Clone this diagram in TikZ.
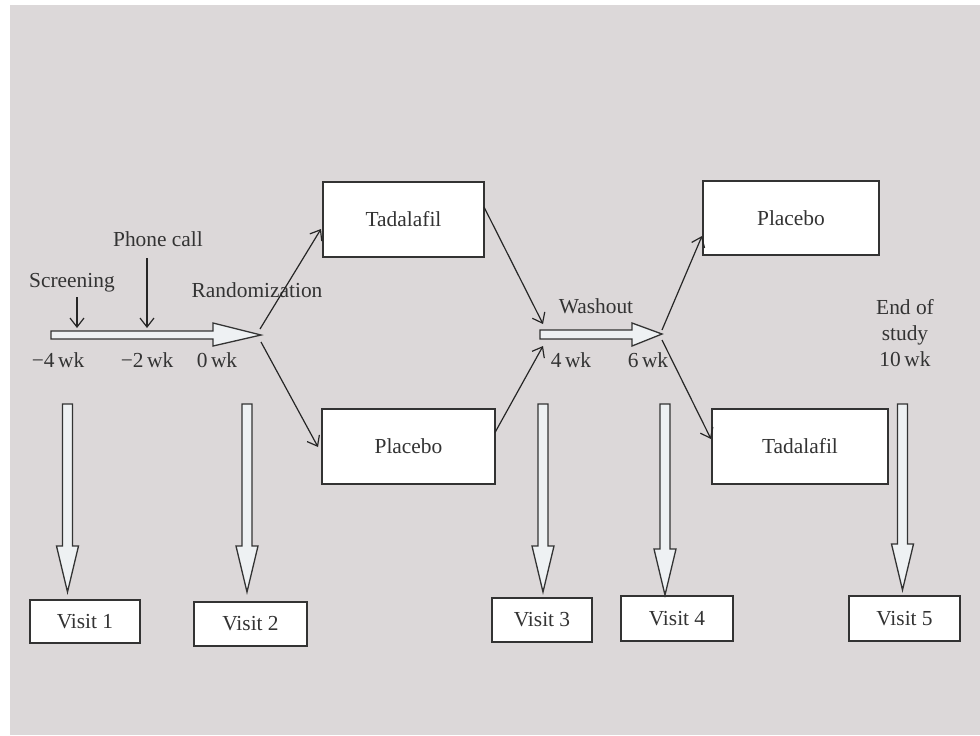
\documentclass[tikz,border=0pt]{standalone}
\usepackage{fontspec}
\setmainfont{Liberation Serif}
\usetikzlibrary{arrows.meta, calc}

\definecolor{paper}{HTML}{DCD8D9}
\definecolor{ink}{HTML}{333333}
\definecolor{arrowfill}{HTML}{EEF1F3}

\tikzset{
  box/.style={draw=ink, line width=0.75pt, fill=white, text=ink, inner sep=0pt, outer sep=0pt},
  lbl/.style={text=ink, inner sep=1pt},
  fat/.style={draw=ink, line width=0.65pt, fill=arrowfill, line join=miter},
  link/.style={draw=black!85, line width=0.6pt, -{Straight Barb[length=4.5pt, width=7pt]}},
}

\begin{document}
\begin{tikzpicture}[x=0.5pt, y=-0.5pt, font=\fontsize{10.7}{12.5}\selectfont]
\useasboundingbox (0,0) rectangle (980,735);
\fill[paper] (10,5) rectangle (980,735);

% treatment blocks
\node[box, minimum width=80.5pt, minimum height=37.5pt] (tad1) at (403.5,219.5) {Tadalafil};
\node[box, minimum width=86.5pt, minimum height=37.5pt] (pla1) at (408.5,446.5) {Placebo};
\node[box, minimum width=88pt, minimum height=37pt]     (pla2) at (791,218)     {Placebo};
\node[box, minimum width=88pt, minimum height=37.5pt]   (tad2) at (800,446.5)   {Tadalafil};

% visits
\node[box, minimum width=55pt, minimum height=21.5pt]   (v1) at (85,621.5)  {Visit 1};
\node[box, minimum width=56.5pt, minimum height=22pt]   (v2) at (250.5,624) {Visit 2};
\node[box, minimum width=50pt, minimum height=22pt]     (v3) at (542,620)   {Visit 3};
\node[box, minimum width=56pt, minimum height=22.5pt]   (v4) at (677,618.5) {Visit 4};
\node[box, minimum width=55.5pt, minimum height=22.5pt] (v5) at (904.5,618.5) {Visit 5};

% time line
\draw[fat] (51,331) -- (213,331) -- (213,323) -- (261,335) -- (213,346) -- (213,339) -- (51,339) -- cycle;
\draw[fat] (540,330) -- (632,330) -- (632,323) -- (662,334) -- (632,346) -- (632,339) -- (540,339) -- cycle;

% down to the visits
\foreach \x/\tip in {67.5/592, 247/592, 543/592, 665/595, 902.5/590}
  \draw[fat] (\x-5,404) -- (\x+5,404) -- (\x+5,\tip-46) -- (\x+11,\tip-46) -- (\x,\tip)
             -- (\x-11,\tip-46) -- (\x-5,\tip-46) -- cycle;

% labels
\node[lbl] (scr)   at (72,283)  {Screening};
\node[lbl] (phone) at (158,239) {Phone call};
\node[lbl] (rnd)   at (257,290) {Randomization};
\node[lbl] (wash)  at (596,306) {Washout};
\node[lbl] (t1) at (58,360)  {−4\,wk};
\node[lbl] (t2) at (147,360) {−2\,wk};
\node[lbl] (t3) at (217,360) {0\,wk};
\node[lbl] (t4) at (571,360) {4\,wk};
\node[lbl] (t5) at (648,360) {6\,wk};
\node[lbl, align=center] (end) at (905,333) {End of\\[0.5pt]study\\[0.5pt]10\,wk};

\coordinate (s1) at (77,297);
\coordinate (s2) at (77,328);
\coordinate (p1) at (147,258);
\coordinate (p2) at (147,328);
\coordinate (r1) at (260,329);
\coordinate (r2) at (261,342);
\coordinate (w1) at (543,324);
\coordinate (w2) at (543,346);
\coordinate (o1) at (662,330);
\coordinate (o2) at (662,340);

\draw[link] (s1) -- (s2);
\draw[link] (p1) -- (p2);
\draw[link] (r1) -- ($(tad1.west)+(-2,9.5)$);
\draw[link] (r2) -- ($(pla1.west)+(-4,0.5)$);
\draw[link] ($(tad1.east)+(0,-12.5)$) -- (w1);
\draw[link] ($(pla1.east)+(0,-14)$) -- (w2);
\draw[link] (o1) -- ($(pla2.west)+(-1,18)$);
\draw[link] (o2) -- ($(tad2.west)+(-1,-7.5)$);
\end{tikzpicture}
\end{document}
